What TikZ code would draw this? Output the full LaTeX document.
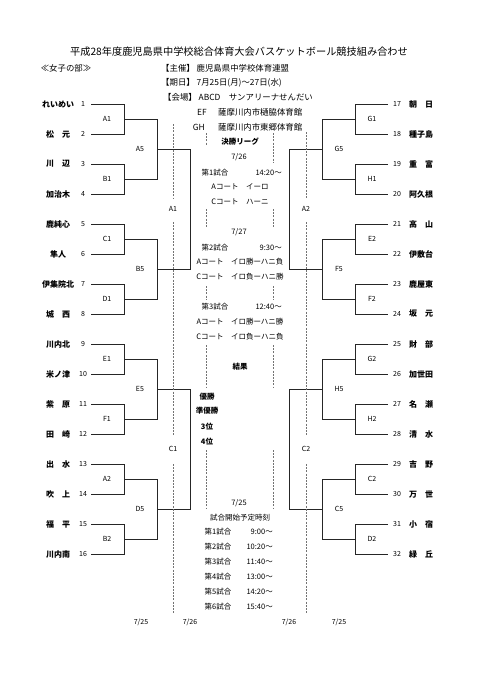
\documentclass[tikz,border=0pt]{standalone}
\usepackage{fontspec}
\setmainfont{Noto Sans CJK JP}
\usepackage{tikz}
\usetikzlibrary{positioning}

\begin{document}
\begin{tikzpicture}[x=1pt,y=-1pt,
  bline/.style={black!85,line width=0.9pt},
  guide/.style={black!55,line width=0.45pt,dash pattern=on 2pt off 1.2pt},
  team/.style={inner sep=0pt,font=\fontsize{8}{9}\selectfont\bfseries},
  num/.style={inner sep=0pt,font=\fontsize{7}{8}\selectfont},
  info/.style={inner sep=0pt,font=\fontsize{7.5}{9}\selectfont},
  infob/.style={info,font=\fontsize{7.5}{9}\selectfont\bfseries},
  hinfo/.style={inner sep=0pt,font=\fontsize{8.4}{10}\selectfont}]
  \useasboundingbox (0,0) rectangle (481,680);

  \node[inner sep=0pt,font=\fontsize{10.2}{12}\selectfont] (title) at (239,52) {平成28年度鹿児島県中学校総合体育大会バスケットボール競技組み合わせ};
  \node[hinfo] (div) at (66,68) {≪女子の部≫};
  \node[hinfo,anchor=west] (host) at (161,68) {【主催】 鹿児島県中学校体育連盟};
  \node[hinfo,anchor=west] (date) at (161,83) {【期日】 7月25日(月)～27日(水)};
  \node[hinfo,anchor=west] (venue) at (163,97) {【会場】 ABCD　サンアリーナせんだい};
  \node[hinfo,anchor=east] (ef) at (207,112) {EF};
  \node[hinfo,anchor=west] (efv) at (218,112) {薩摩川内市樋脇体育館};
  \node[hinfo,anchor=east] (gh) at (205,127) {GH};
  \node[hinfo,anchor=west] (ghv) at (218,127) {薩摩川内市東郷体育館};

  \foreach \xs/\xo in {1/0,-1/479}{
    \begin{scope}[xshift=\xo pt,xscale=\xs]
      \foreach \k in {0,...,7}
        \draw[bline] (91,104+60*\k) -| (124,134+60*\k) -- (91,134+60*\k);
      \foreach \q in {0,...,3}
        \draw[bline] (124,119+120*\q) -| (157,179+120*\q) -- (124,179+120*\q);
      \foreach \h in {0,1}
        \draw[bline] (157,149+240*\h) -| (190,269+240*\h) -- (157,269+240*\h);
    \end{scope}
  }

  \foreach \i/\nm in {1/れいめい,2/松　元,3/川　辺,4/加治木,5/鹿純心,6/隼人,7/伊集院北,8/城　西,
      9/川内北,10/米ノ津,11/紫　原,12/田　崎,13/出　水,14/吹　上,15/福　平,16/川内南}{
    \node[team] (t\i) at (58,74+30*\i) {\nm};
    \node[num] (n\i) at (83,74+30*\i) {\i};
  }
  \foreach \i/\nm in {17/朝　日,18/種子島,19/重　富,20/阿久根,21/高　山,22/伊敷台,23/鹿屋東,24/坂　元,
      25/財　部,26/加世田,27/名　瀬,28/清　水,29/吉　野,30/万　世,31/小　宿,32/緑　丘}{
    \node[team] (t\i) at (421,104+30*\i-510) {\nm};
    \node[num] (n\i) at (397,104+30*\i-510) {\i};
  }

  \foreach \lab [count=\k from 0] in {A1,B1,C1,D1,E1,F1,A2,B2}
    \node[num] (la\k) at (107,119+60*\k) {\lab};
  \foreach \lab [count=\k from 0] in {A5,B5,E5,D5}
    \node[num] (lb\k) at (140,149+120*\k) {\lab};
  \foreach \lab [count=\k from 0] in {A1,C1}
    \node[num] (lc\k) at (173,209+240*\k) {\lab};
  \foreach \lab [count=\k from 0] in {G1,H1,E2,F2,G2,H2,C2,D2}
    \node[num] (ra\k) at (372,119+60*\k) {\lab};
  \foreach \lab [count=\k from 0] in {G5,F5,H5,C5}
    \node[num] (rb\k) at (339,149+120*\k) {\lab};
  \foreach \lab [count=\k from 0] in {A2,C2}
    \node[num] (rc\k) at (306,209+240*\k) {\lab};

  \draw[guide] (173,124) -- (173,199) (173,222) -- (173,435) (173,464) -- (173,613);
  \draw[guide] (306,132) -- (306,199) (306,222) -- (306,435) (306,464) -- (306,613);
  \draw[guide] (206,133) -- (206,145) (273,133) -- (273,163);
  \foreach \ya/\yb in {209/227,286/300,345/388,450/508}
    \draw[guide] (206,\ya) -- (206,\yb) (273,\ya) -- (273,\yb);

  \node[infob] (fl) at (240,142) {決勝リーグ};
  \node[info] (d26) at (239,157) {7/26};
  \node[info] (g1) at (215,173) {第1試合};
  \node[info,anchor=east] (g1t) at (282,173) {14:20～};
  \node[info] (g1a) at (240,187) {Aコート　イーロ};
  \node[info] (g1c) at (240,202) {Cコート　ハーニ};
  \node[info] (d27) at (239,232) {7/27};
  \node[info] (g2) at (215,248) {第2試合};
  \node[info,anchor=east] (g2t) at (282,248) {9:30～};
  \node[info] (g2a) at (240,262) {Aコート　イロ勝ーハニ負};
  \node[info] (g2c) at (240,277) {Cコート　イロ負ーハニ勝};
  \node[info] (g3) at (215,307) {第3試合};
  \node[info,anchor=east] (g3t) at (282,307) {12:40～};
  \node[info] (g3a) at (240,322) {Aコート　イロ勝ーハニ勝};
  \node[info] (g3c) at (240,337) {Cコート　イロ負ーハニ負};
  \node[infob] (res) at (240,367) {結果};
  \node[infob] (p1) at (207,397) {優勝};
  \node[infob] (p2) at (207,411) {準優勝};
  \node[infob] (p3) at (207,427) {3位};
  \node[infob] (p4) at (207,442) {4位};
  \node[info] (d25) at (239,503) {7/25};
  \node[info] (sched) at (240,518) {試合開始予定時刻};
  \foreach \n/\tm [count=\r from 0] in {1/9:00～,2/10:20～,3/11:40～,4/13:00～,5/14:20～,6/15:40～}{
    \node[info] (s\n) at (218,532+15*\r) {第\n{}試合};
    \node[info,anchor=east] (st\n) at (273,532+15*\r) {\tm};
  }

  \node[num] (bd1) at (141,622) {7/25};
  \node[num] (bd2) at (190,622) {7/26};
  \node[num] (bd3) at (289,622) {7/26};
  \node[num] (bd4) at (339,622) {7/25};
\end{tikzpicture}
\end{document}
